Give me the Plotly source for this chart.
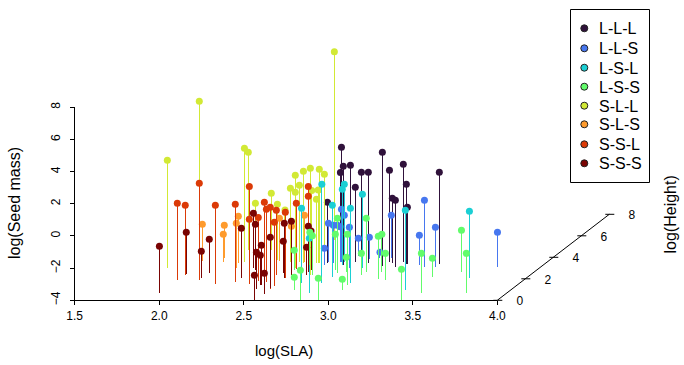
import plotly.graph_objects as go

# Values read on the drawn SLA / Seed-mass axes: x position, top of stem, foot of stem
groups = ["L-L-L", "L-L-S", "L-S-L", "L-S-S", "S-L-L", "S-L-S", "S-S-L", "S-S-S"]
colors = ["#30123B", "#4777EF", "#1BCFD4", "#62FC6B", "#D2E935", "#FE9B2D", "#DB3A07", "#7A0403"]

lll_x = [3.078, 3.089, 3.131, 3.072, 3.196, 3.237, 3.320, 3.362, 3.444, 3.657, 3.160, 2.995, 3.462, 3.379, 3.397, 3.468]
lll_top = [5.52, 4.33, 4.40, 3.94, 3.96, 3.96, 5.21, 4.09, 4.46, 3.96, 3.03, 2.10, 3.22, 2.34, 2.22, 1.78]
lll_foot = [-1.62, -1.80, -1.62, -1.62, -1.24, -1.66, -1.85, -1.62, -1.62, -1.74, -1.62, -1.68, -1.74, -1.68, -1.91, -1.74]

lls_x = [3.001, 3.030, 3.054, 3.070, 3.125, 2.977, 3.178, 3.243, 3.306, 3.078, 3.095, 3.373, 3.539, 3.569, 3.634, 4.001]
lls_top = [0.79, 0.67, 0.67, 0.58, 0.54, -0.76, -0.14, -0.08, -1.01, 1.66, 1.29, 1.29, 0.04, 2.22, 0.54, 0.23]
lls_foot = [-1.60, -1.68, -1.62, -1.62, -1.99, -1.80, -1.24, -1.43, -1.37, -1.62, -1.62, -1.37, -1.80, -1.91, -1.91, -1.91]

lsl_x = [2.842, 2.888, 2.962, 3.024, 3.083, 3.095, 3.131, 3.202, 3.456, 3.835]
lsl_top = [1.72, -0.14, 3.22, 1.91, 2.90, 3.22, 1.72, 2.59, 1.60, 1.54]
lsl_foot = [-2.92, -3.56, -2.94, -2.53, -1.80, -1.62, -2.94, -1.99, -3.36, -2.63]

lss_x = [2.799, 2.799, 2.835, 2.891, 2.906, 2.941, 3.042, 3.113, 3.107, 3.083, 3.196, 3.054, 3.225, 3.296, 3.317, 3.338, 3.433, 3.551, 3.616, 3.788, 3.817]
lss_top = [-0.89, -2.57, -2.13, 0.23, 0.02, -2.63, 0.11, 0.11, -1.32, -2.69, -1.08, 1.10, 1.10, -0.02, 0.11, -1.08, -2.07, -1.08, -1.39, 0.35, -1.08]
lss_foot = [-2.11, -3.36, -3.98, -1.80, -2.43, -3.98, -2.11, -3.05, -2.24, -3.36, -2.43, -2.30, -2.22, -2.69, -2.22, -2.74, -3.98, -3.56, -2.57, -2.22, -3.56]

sll_x = [2.048, 2.237, 2.504, 2.527, 2.569, 2.663, 2.699, 2.744, 2.776, 2.805, 2.805, 2.829, 2.853, 2.894, 2.902, 2.930, 2.941, 2.947, 2.977, 3.036]
sll_top = [4.71, 8.38, 5.45, 5.21, 2.03, 2.66, 1.97, 1.62, 2.97, 3.77, 2.72, 3.15, 4.02, 4.21, 2.82, 2.28, 2.86, 4.15, 3.84, 11.46]
sll_foot = [-1.97, -0.87, -1.60, -0.87, -1.37, -0.87, -1.49, -1.37, -1.62, -1.99, -1.80, -1.62, -1.68, -2.43, -1.62, -1.68, -1.68, -1.68, -1.62, -0.25]

sls_x = [2.255, 2.385, 2.379, 2.468, 2.456, 2.711, 2.782, 2.859]
sls_top = [0.73, 0.67, 0.11, 1.23, 0.79, 1.10, 0.60, 1.29]
sls_foot = [-1.54, -1.37, -1.60, -1.68, -1.97, -1.54, -1.62, -1.62]

ssl_x = [2.107, 2.154, 2.237, 2.332, 2.450, 2.533, 2.533, 2.586, 2.622, 2.634, 2.657, 2.681, 2.693, 2.746, 2.811, 2.882, 2.882]
ssl_top = [2.03, 1.91, 3.28, 1.91, 1.97, 3.08, 1.04, 1.15, 2.10, 1.66, 1.78, 0.85, 1.60, 1.47, 2.03, 3.07, 2.47]
ssl_foot = [-2.74, -2.43, -2.74, -2.99, -2.84, -2.99, -2.92, -2.80, -2.61, -2.84, -3.30, -3.11, -2.43, -2.61, -2.05, -2.11, -2.24]

sss_x = [2.001, 2.160, 2.249, 2.296, 2.486, 2.557, 2.569, 2.604, 2.575, 2.598, 2.563, 2.622, 2.657, 2.740, 2.734, 2.782, 2.882, 2.898, 2.872]
sss_top = [-0.64, 0.23, -0.95, -0.21, 0.48, 1.41, 0.73, -0.58, -1.01, -1.20, -2.44, -2.32, -0.08, 0.79, -0.33, 0.91, 0.60, 0.31, -0.70]
sss_foot = [-3.56, -2.36, -2.63, -2.28, -2.59, -1.99, -2.11, -3.05, -3.30, -3.05, -3.98, -3.61, -3.23, -2.61, -2.30, -2.43, -2.24, -2.11, -2.43]

series = {
    "L-L-L": (lll_x, lll_top, lll_foot),
    "L-L-S": (lls_x, lls_top, lls_foot),
    "L-S-L": (lsl_x, lsl_top, lsl_foot),
    "L-S-S": (lss_x, lss_top, lss_foot),
    "S-L-L": (sll_x, sll_top, sll_foot),
    "S-L-S": (sls_x, sls_top, sls_foot),
    "S-S-L": (ssl_x, ssl_top, ssl_foot),
    "S-S-S": (sss_x, sss_top, sss_foot),
}
draw_order = ["L-L-L", "S-L-L", "S-L-S", "S-S-L", "S-S-S", "L-L-S", "L-S-L", "L-S-S"]

height_ticks = [0, 2, 4, 6, 8]
x_ticks = [1.5, 2.0, 2.5, 3.0, 3.5, 4.0]
y_ticks = [-4, -2, 0, 2, 4, 6, 8]

FONT = "Liberation Sans, Arial, sans-serif"
W, H = 684, 365
L, R, T, B = 74.7, 497.3, 107.3, 300.3
PX_X = (R - L) / 2.5     # pixels per SLA unit
PX_Y = (B - T) / 12.0    # pixels per seed-mass unit
DEPTH_DX = 14.0 / PX_X   # shift on the SLA axis per height unit
DEPTH_DY = 10.75 / PX_Y  # shift on the seed axis per height unit

fig = go.Figure()

# Carrier for the drawn axes
fig.add_trace(go.Scatter(x=[1.5], y=[-4], xaxis="x", yaxis="y", mode="markers",
                         marker=dict(size=1, opacity=0), showlegend=False, hoverinfo="skip"))

overlay = dict(xaxis="x2", yaxis="y2", cliponaxis=False, showlegend=False)

for g in draw_order:
    x, top, foot = series[g]
    c = colors[groups.index(g)]
    fig.add_trace(go.Scatter(
        x=x, y=top, mode="markers", name=g, **overlay,
        marker=dict(size=7, color=c, line=dict(width=0)),
        error_y=dict(type="data", symmetric=False, array=[0] * len(x),
                     arrayminus=[t - f for t, f in zip(top, foot)],
                     thickness=1, width=0, color=c),
    ))

# Height axis (oblique)
ax_x = [4.0 + h * DEPTH_DX for h in (height_ticks[0], height_ticks[-1])]
ax_y = [-4 + h * DEPTH_DY for h in (height_ticks[0], height_ticks[-1])]
fig.add_trace(go.Scatter(x=ax_x, y=ax_y, mode="lines", line=dict(color="black", width=1), **overlay))
for h in height_ticks:
    cx = 4.0 + h * DEPTH_DX
    cy = -4 + h * DEPTH_DY
    fig.add_trace(go.Scatter(x=[cx - 4 / PX_X, cx + 5 / PX_X], y=[cy, cy], mode="lines",
                             line=dict(color="black", width=1), **overlay))
fig.add_trace(go.Scatter(
    x=[4.0 + h * DEPTH_DX + 22.5 / PX_X for h in height_ticks],
    y=[-4 + h * DEPTH_DY - 1.8 / PX_Y for h in height_ticks],
    mode="text", text=[str(h) for h in height_ticks],
    textposition="middle center", textfont=dict(family=FONT, size=12, color="black"), **overlay,
))

# Legend keys
key_y_px = [28.3, 48.3, 67.7, 86.7, 105.7, 124.3, 144.3, 163.3]
fig.add_trace(go.Scatter(
    x=[1.5 + (584.3 - L) / PX_X] * len(groups),
    y=[-4 + (B - p) / PX_Y for p in key_y_px],
    mode="markers", marker=dict(size=7, color=colors, line=dict(color="#222222", width=1)), **overlay,
))

def px(v):
    return v / W

def py(v):
    return 1 - v / H

def note(x, y, text, size, angle=0, xanchor="center"):
    return dict(x=px(x), y=py(y), xref="paper", yref="paper", text=text, showarrow=False,
                textangle=angle, xanchor=xanchor, yanchor="middle",
                font=dict(family=FONT, size=size, color="black"))

annotations = [note(597, p + 0.5, g, 16, xanchor="left") for g, p in zip(groups, key_y_px)]
annotations += [
    note(283.5, 350.5, "log(SLA)", 15),
    note(14, 203, "log(Seed mass)", 16, -90),
    note(670, 214.5, "log(Height)", 16, -90),
]

fig.update_layout(
    width=W, height=H, paper_bgcolor="white", plot_bgcolor="rgba(0,0,0,0)", showlegend=False,
    margin=dict(l=0, r=0, t=0, b=0, pad=0, autoexpand=False),
    annotations=annotations,
    shapes=[dict(type="rect", xref="paper", yref="paper", x0=px(570.5), x1=px(649.5),
                 y0=py(182.5), y1=py(9.5), line=dict(color="black", width=1))],
    xaxis=dict(domain=[L / W, R / W], anchor="y", range=[1.5, 4.0], tickvals=x_ticks,
               ticktext=[f"{v:.1f}" for v in x_ticks],
               showgrid=False, zeroline=False, showline=True, linecolor="black", linewidth=1,
               ticks="outside", ticklen=4, tickcolor="black", tickwidth=1,
               tickfont=dict(family=FONT, size=12, color="black")),
    yaxis=dict(domain=[1 - B / H, 1 - T / H], anchor="x", range=[-4, 8], tickvals=y_ticks,
               showgrid=False, zeroline=False,
               showline=True, linecolor="black", linewidth=1, ticks="outside", ticklen=4,
               tickcolor="black", tickwidth=1, tickangle=-90, ticklabelstandoff=5,
               tickfont=dict(family=FONT, size=12, color="black")),
    xaxis2=dict(domain=[0, 1], anchor="y2", visible=False,
                range=[1.5 - L / PX_X, 1.5 + (W - L) / PX_X]),
    yaxis2=dict(domain=[0, 1], anchor="x2", visible=False,
                range=[-4 - (H - B) / PX_Y, 8 + T / PX_Y]),
)

fig.write_html("out.html", config=dict(displayModeBar=False),
               post_script="document.body.style.margin='0';document.body.style.overflow='hidden';"
                           "document.querySelectorAll('.errorbar path').forEach(function(p){p.style.shapeRendering='crispEdges';});")
